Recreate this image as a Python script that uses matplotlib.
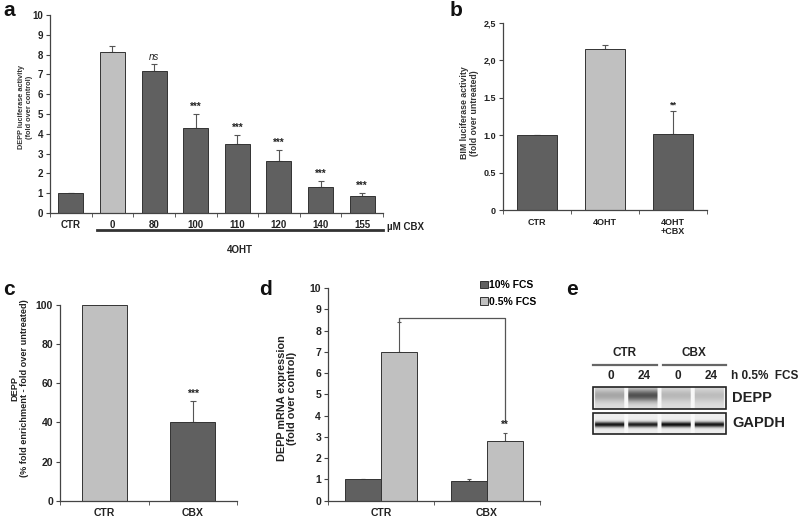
import numpy as np
import matplotlib.pyplot as plt
from matplotlib.patches import Rectangle

plt.rcParams['font.family'] = ['Liberation Sans', 'DejaVu Sans']
plt.rcParams['font.weight'] = 'bold'
plt.rcParams['axes.labelweight'] = 'bold'

DARK = '#606060'
LIGHT = '#c0c0c0'
EDGE = '#333333'
TXT = '#222222'

# panel a: DEPP luciferase, CBX dose series
a_labels = ['CTR', '0', '80', '100', '110', '120', '140', '155']
a_values = [1.0, 8.12, 7.15, 4.27, 3.48, 2.62, 1.33, 0.88]
a_errors = [0.0, 0.30, 0.40, 0.72, 0.45, 0.57, 0.30, 0.12]
a_sig = ['', '', 'ns', '***', '***', '***', '***', '***']
a_light = [False, True, False, False, False, False, False, False]

# panel b: BIM luciferase
b_labels = ['CTR', '4OHT', '4OHT\n+CBX']
b_values = [1.0, 2.15, 1.01]
b_errors = [0.0, 0.05, 0.31]
b_sig = ['', '', '**']
b_light = [False, True, False]
b_ticklabels = ['0', '0.5', '1.0', '1.5', '2,0', '2,5']

# panel c: DEPP ChIP enrichment
c_labels = ['CTR', 'CBX']
c_values = [100, 40]
c_errors = [0, 11]
c_sig = ['', '***']
c_light = [True, False]

# panel d: DEPP mRNA
d_labels = ['CTR', 'CBX']
d_series = ['10% FCS', '0.5% FCS']
d_values = [[1.0, 0.93], [7.0, 2.8]]
d_errors = [[0.0, 0.07], [1.4, 0.4]]
d_sig = ['', '**']
d_bracket = 8.6

# panel e: western blot (relative band intensity per lane)
e_groups = ['CTR', 'CBX']
e_lanes = ['0', '24', '0', '24']
e_depp = [0.22, 0.55, 0.15, 0.13]
e_gapdh = [0.85, 0.82, 0.88, 0.85]

PX_W, PX_H = 800, 524


def fig_rect(left, top, right, bottom):
    return [left / PX_W, 1 - bottom / PX_H, (right - left) / PX_W, (bottom - top) / PX_H]


def style_axes(ax, n, fs):
    for s in ['top', 'right']:
        ax.spines[s].set_visible(False)
    for s in ['left', 'bottom']:
        ax.spines[s].set_color('#444444')
        ax.spines[s].set_linewidth(0.9)
    ax.set_xlim(-0.5, n - 0.5)
    ax.set_xticks(range(n))
    ax.set_xticks(np.arange(-0.5, n, 1.0), minor=True)
    ax.tick_params(axis='x', which='major', length=0, pad=5, labelsize=fs, colors=TXT)
    ax.tick_params(axis='x', which='minor', length=3, color='#444444', direction='out')
    ax.tick_params(axis='y', length=3, color='#444444', labelsize=fs, colors=TXT, pad=2)


def bar_panel(ax, labels, values, errors, light, sig, width, fs, sig_off):
    x = np.arange(len(labels))
    colors = [LIGHT if l else DARK for l in light]
    ax.bar(x, values, width=width, color=colors, edgecolor=EDGE, linewidth=0.7, zorder=2)
    ax.errorbar(x, values, yerr=[np.zeros(len(errors)), errors], fmt='none',
                ecolor='#555555', elinewidth=0.8, capsize=2, capthick=0.8, zorder=1)
    for xi, v, e, s in zip(x, values, errors, sig):
        if s:
            ax.text(xi, v + e + sig_off, s, ha='center', va='bottom', fontsize=fs,
                    style='italic' if s == 'ns' else 'normal',
                    fontweight='normal' if s == 'ns' else 'bold', color=TXT)
    style_axes(ax, len(labels), fs)
    ax.set_xticklabels(labels)


fig = plt.figure(figsize=(8, 5.24), dpi=100)

# ---- a
ax_a = fig.add_axes(fig_rect(50, 15, 383, 213))
bar_panel(ax_a, a_labels, a_values, a_errors, a_light, a_sig, 0.6, 7, 0.1)
ax_a.set_ylim(0, 10)
ax_a.set_yticks(range(0, 11))
ax_a.set_ylabel('DEPP luciferase activity\n(fold over control)', fontsize=5.3, color='#333333',
                linespacing=1.35)
ax_a.yaxis.set_label_coords(-0.05, 0.535)
ax_a.text(1.012, -0.045, 'µM CBX', transform=ax_a.transAxes, fontsize=7, color=TXT,
          ha='left', va='top')
ax_a.plot([0.63, 7.5], [-0.087, -0.087], transform=ax_a.get_xaxis_transform(),
          color='#333333', lw=2, clip_on=False)
ax_a.text(4.06, -0.16, '4OHT', transform=ax_a.get_xaxis_transform(), fontsize=7,
          color=TXT, ha='center', va='top')

# ---- b
ax_b = fig.add_axes(fig_rect(503, 23, 707, 210))
bar_panel(ax_b, b_labels, b_values, b_errors, b_light, b_sig, 0.59, 6.5, 0.02)
ax_b.set_ylim(0, 2.5)
ax_b.set_yticks(np.arange(0, 2.51, 0.5))
ax_b.set_yticklabels(b_ticklabels)
ax_b.tick_params(axis='x', which='major', pad=6)
for lab in ax_b.get_xticklabels():
    lab.set_verticalalignment('top')
    lab.set_linespacing(1.0)
ax_b.set_ylabel('BIM luciferase activity\n(fold over untreated)', fontsize=6.3, color='#333333',
                linespacing=1.1)
ax_b.yaxis.set_label_coords(-0.12, 0.52)

# ---- c
ax_c = fig.add_axes(fig_rect(60, 305, 237, 500.7))
bar_panel(ax_c, c_labels, c_values, c_errors, c_light, c_sig, 0.51, 7.5, 1.0)
ax_c.set_ylim(0, 100)
ax_c.set_yticks(range(0, 101, 20))
ax_c.set_ylabel('DEPP\n(% fold enrichment - fold over untreated)', fontsize=6.6,
                color='#222222', linespacing=1.15)
ax_c.yaxis.set_label_coords(-0.175, 0.575)

# ---- d
ax_d = fig.add_axes(fig_rect(328, 288, 540, 500.7))
xd = np.arange(len(d_labels))
bw = 0.34
d_cols = [DARK, LIGHT]
for i, (vals, errs) in enumerate(zip(d_values, d_errors)):
    xs = xd + (i - 0.5) * bw
    ax_d.bar(xs, vals, width=bw, color=d_cols[i], edgecolor=EDGE, linewidth=0.7,
             label=d_series[i], zorder=2)
    ax_d.errorbar(xs, vals, yerr=[np.zeros(len(errs)), errs], fmt='none',
                  ecolor='#555555', elinewidth=0.8, capsize=1.5, capthick=0.8, zorder=1)
style_axes(ax_d, len(d_labels), 7.5)
ax_d.set_xticklabels(d_labels)
ax_d.set_ylim(0, 10)
ax_d.set_yticks(range(0, 11))
xl, xr = xd[0] + 0.5 * bw, xd[1] + 0.5 * bw
top_l = d_values[1][0] + d_errors[1][0]
top_r = d_values[1][1] + d_errors[1][1]
ax_d.plot([xl, xl, xr, xr], [top_l, d_bracket, d_bracket, top_r + 0.6],
          color='#555555', lw=0.9, zorder=3)
ax_d.text(xr, top_r + 0.12, d_sig[1], ha='center', va='bottom', fontsize=7, color=TXT)
ax_d.legend(loc='upper right', bbox_to_anchor=(1.0, 1.055), frameon=False, fontsize=7.5,
            handlelength=0.7, handleheight=0.7, handletextpad=0.1, labelspacing=0.6,
            borderaxespad=0)
ax_d.set_ylabel('DEPP mRNA expression\n(fold over control)', fontsize=7.8, color='#222222',
                linespacing=1.05)
ax_d.yaxis.set_label_coords(-0.145, 0.48)

# ---- overlay: panel letters and blot
ov = fig.add_axes([0, 0, 1, 1])
ov.set_xlim(0, PX_W)
ov.set_ylim(PX_H, 0)
ov.axis('off')
for letter, (lx, ly) in zip('abcde', [(3, 1), (450, 1), (3, 280), (259, 280), (566, 280)]):
    ov.text(lx, ly, letter, fontsize=15, fontweight='bold', ha='left', va='top', color='#111111')

bx0, bx1 = 593, 726
n_lane = len(e_lanes)
lane_w = (bx1 - bx0) / n_lane


def blot_image(intens, center, sigma, base, ncols=200, nrows=40):
    cols = np.linspace(0, 1, ncols)
    rows = np.linspace(0, 1, nrows)[:, None]
    img = np.full((nrows, ncols), 0.97)
    for k, v in enumerate(intens):
        lane = (cols >= k / n_lane + 0.015) & (cols <= (k + 1) / n_lane - 0.015)
        prof = base + v * np.exp(-0.5 * ((rows - center) / sigma) ** 2)
        img[:, lane] -= prof * np.ones((1, lane.sum()))
    return np.clip(img, 0, 1)


ov.imshow(blot_image(e_depp, 0.38, 0.2, 0.1), cmap='gray', vmin=0, vmax=1, aspect='auto',
          extent=(bx0, bx1, 409, 387), interpolation='bilinear')
ov.imshow(blot_image(e_gapdh, 0.55, 0.09, 0.04), cmap='gray', vmin=0, vmax=1, aspect='auto',
          extent=(bx0, bx1, 434, 413), interpolation='bilinear')
for (y0, y1) in [(387, 409), (413, 434)]:
    ov.add_patch(Rectangle((bx0, y0), bx1 - bx0, y1 - y0, fill=False, edgecolor='#222222', lw=1.2))
ov.set_xlim(0, PX_W)
ov.set_ylim(PX_H, 0)

for g, name in enumerate(e_groups):
    gx0 = bx0 + g * 2 * lane_w + (3 if g else 0)
    gx1 = bx0 + (g + 1) * 2 * lane_w - (3 if not g else 0)
    ov.plot([gx0, gx1], [365, 365], color='#666666', lw=1.6)
    ov.text((gx0 + gx1) / 2, 353, name, ha='center', va='center', fontsize=8.5, color=TXT)
for k, lab in enumerate(e_lanes):
    ov.text(bx0 + (k + 0.55) * lane_w, 376, lab, ha='center', va='center', fontsize=8.5, color=TXT)
ov.text(731, 376, 'h 0.5%  FCS', ha='left', va='center', fontsize=8.5, color=TXT)
ov.text(732, 398, 'DEPP', ha='left', va='center', fontsize=10.5, color=TXT)
ov.text(732, 423, 'GAPDH', ha='left', va='center', fontsize=10.5, color=TXT)

fig.savefig('out.png', dpi=100)
